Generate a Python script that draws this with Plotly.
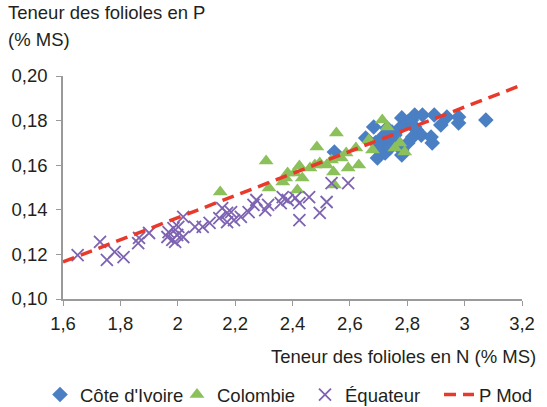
import plotly.graph_objects as go

# Côte d'Ivoire (N, P)
ci_n = [2.546, 2.655, 2.683, 2.689, 2.700, 2.696, 2.713, 2.713, 2.723, 2.723, 2.730, 2.747,
        2.747, 2.768, 2.781, 2.781, 2.781, 2.802, 2.802, 2.815, 2.819, 2.826, 2.826, 2.832,
        2.849, 2.853, 2.883, 2.887, 2.894, 2.917, 2.938, 2.979, 2.979, 3.074, 2.757, 2.774, 2.740]
ci_p = [0.1659, 0.1722, 0.1771, 0.1700, 0.1668, 0.1632, 0.1726, 0.1682, 0.1713, 0.1655, 0.1767, 0.1749,
        0.1700, 0.1700, 0.1812, 0.1668, 0.1646, 0.1794, 0.1700, 0.1803, 0.1726, 0.1825, 0.1771, 0.1758,
        0.1735, 0.1825, 0.1726, 0.1700, 0.1825, 0.1780, 0.1816, 0.1816, 0.1789, 0.1803, 0.1735, 0.1767, 0.1677]

# Colombie
co_n = [2.148, 2.308, 2.318, 2.366, 2.376, 2.383, 2.407, 2.417, 2.424, 2.434, 2.461, 2.478,
        2.485, 2.495, 2.519, 2.536, 2.543, 2.546, 2.553, 2.570, 2.587, 2.594, 2.621, 2.631,
        2.666, 2.679, 2.713, 2.730, 2.757, 2.774, 2.791]
co_p = [0.1480, 0.1619, 0.1498, 0.1525, 0.1543, 0.1565, 0.1565, 0.1489, 0.1596, 0.1543, 0.1587, 0.1601,
        0.1682, 0.1610, 0.1601, 0.1623, 0.1570, 0.1511, 0.1744, 0.1632, 0.1655, 0.1587, 0.1677, 0.1601,
        0.1713, 0.1668, 0.1803, 0.1771, 0.1677, 0.1700, 0.1659]

# Équateur
eq_n = [1.651, 1.729, 1.753, 1.780, 1.811, 1.862, 1.865, 1.900, 1.964, 1.968, 1.985, 1.981, 1.998,
        2.019, 2.002, 2.019, 1.991, 2.060, 2.087, 2.111, 2.145, 2.155, 2.172, 2.186, 2.172, 2.196,
        2.220, 2.247, 2.264, 2.274, 2.305, 2.315, 2.359, 2.366,
        2.383, 2.410, 2.424, 2.458, 2.424, 2.519, 2.495, 2.536, 2.594]
eq_p = [0.1197, 0.1256, 0.1175, 0.1211, 0.1188, 0.1251, 0.1274, 0.1296, 0.1278, 0.1300, 0.1318, 0.1265, 0.1287,
        0.1368, 0.1323, 0.1278, 0.1256, 0.1323, 0.1323, 0.1341, 0.1363, 0.1408, 0.1386, 0.1390, 0.1345, 0.1354,
        0.1368, 0.1390, 0.1422, 0.1444, 0.1399, 0.1422, 0.1430, 0.1457,
        0.1444, 0.1453, 0.1430, 0.1457, 0.1354, 0.1435, 0.1386, 0.1520, 0.1520]

# P Mod (modèle)
mod_n = [1.6, 3.2]
mod_p = [0.1166, 0.196]

FONT = "Liberation Sans, Arial, sans-serif"
TXT = "#231f20"
AXIS = "#9a9a9a"
FS = 18.5

fig = go.Figure()
fig.add_trace(go.Scatter(x=ci_n, y=ci_p, mode="markers", name="Côte d'Ivoire", legend="legend",
                         marker=dict(symbol="diamond", size=12, color="#4a7fc4")))
fig.add_trace(go.Scatter(x=co_n, y=co_p, mode="markers", name="Colombie", legend="legend2",
                         marker=dict(symbol="triangle-up", size=13, color="#8cc05a")))
fig.add_trace(go.Scatter(x=eq_n, y=eq_p, mode="markers", name="Équateur", legend="legend3",
                         marker=dict(symbol="x-thin", size=12, color="#7d63b2",
                                     line=dict(width=1.8, color="#7d63b2"))))
fig.add_trace(go.Scatter(x=mod_n, y=mod_p, mode="lines", name="P Mod", legend="legend4",
                         line=dict(color="#e8392b", width=3.5, dash="12px,7px")))


def leg(px):
    # one legend box per series, placed along the bottom row
    return dict(orientation="h", xref="container", x=px / 547, xanchor="left",
                yref="container", y=1 - 395 / 407, yanchor="middle",
                font=dict(size=FS, color=TXT), itemwidth=30, bgcolor="rgba(0,0,0,0)")


fig.update_layout(
    width=547, height=407,
    margin=dict(l=60, r=17, t=76, b=108),
    paper_bgcolor="white", plot_bgcolor="white",
    separators=", ",
    font=dict(family=FONT, size=FS, color=TXT),
    showlegend=True,
    legend=leg(40), legend2=leg(177), legend3=leg(305), legend4=leg(439),
    xaxis=dict(range=[1.6, 3.2], dtick=0.2, tick0=1.6, showgrid=False, zeroline=False,
               showline=True, linecolor=AXIS, linewidth=1.5, ticks="outside",
               ticklen=5, tickcolor=AXIS, ticklabelstandoff=2,
               tickfont=dict(size=FS, color=TXT)),
    yaxis=dict(range=[0.10, 0.20], dtick=0.02, tickformat=".2f", showgrid=False, zeroline=False,
               showline=True, linecolor=AXIS, linewidth=1.5, ticks="outside",
               ticklen=5, tickcolor=AXIS, ticklabelstandoff=5,
               tickfont=dict(size=FS, color=TXT)),
    annotations=[
        dict(text="Teneur des folioles en P", xref="paper", yref="paper",
             x=-58 / 470, y=(299 - 12) / 223, xanchor="left", yanchor="middle",
             showarrow=False, font=dict(size=FS, color=TXT)),
        dict(text="(% MS)", xref="paper", yref="paper",
             x=-58 / 470, y=(299 - 40) / 223, xanchor="left", yanchor="middle",
             showarrow=False, font=dict(size=FS, color=TXT)),
        dict(text="Teneur des folioles en N (% MS)", xref="paper", yref="paper",
             x=1 + 16 / 470, y=-(357 - 299) / 223, xanchor="right", yanchor="middle",
             showarrow=False, font=dict(size=FS, color=TXT)),
    ],
)

fig.write_html("out.html", config={"displayModeBar": False},
               post_script="document.body.style.margin='0';")
